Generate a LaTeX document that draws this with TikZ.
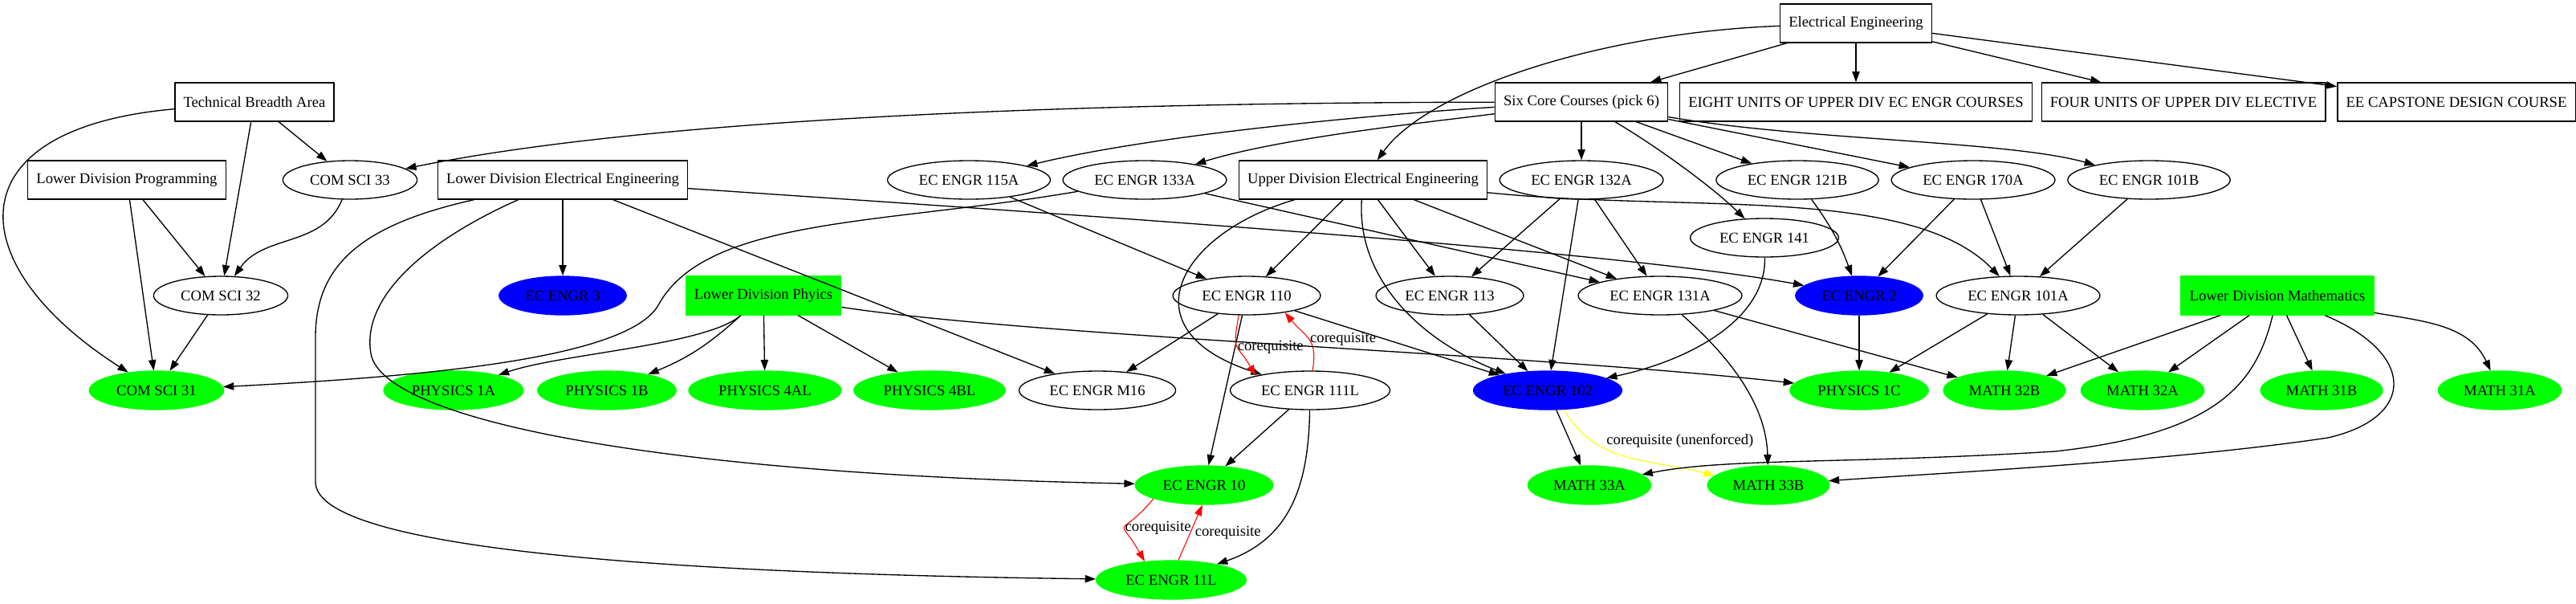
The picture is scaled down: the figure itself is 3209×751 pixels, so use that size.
\documentclass[tikz,border=0pt]{standalone}
\usepackage{fontspec}
\setmainfont{Liberation Serif}
\usepackage{xcolor}
\usepackage{tikz}
\usetikzlibrary{arrows.meta,shapes.geometric}
\definecolor{takengreen}{HTML}{00FF00}
\definecolor{reqblue}{HTML}{0000FF}
\definecolor{coreqred}{HTML}{FF0000}
\definecolor{softyellow}{HTML}{FFFF00}
\tikzset{
    every picture/.style={line join=round},
    course/.style={draw=black,ellipse,line width=1pt,inner xsep=7pt,inner ysep=0pt,
      minimum height=36pt,font=\fontsize{14}{16}\selectfont},
    groupbox/.style={draw=black,rectangle,line width=1pt,inner xsep=8pt,inner ysep=0pt,
      minimum height=36pt,font=\fontsize{14}{16}\selectfont},
    taken/.style={fill=takengreen,draw=takengreen},
    required/.style={fill=reqblue,draw=reqblue},
    prereq/.style={->,draw=black,line width=1pt},
    coreq/.style={->,draw=coreqred,line width=0.8pt},
    softcoreq/.style={->,draw=softyellow,line width=0.8pt},
    edgelabel/.style={font=\fontsize{14}{16}\selectfont,inner sep=0pt,anchor=west}
}

\begin{document}
\begin{tikzpicture}[x=0.75pt,y=-0.75pt,>={Triangle[length=10pt,width=7pt]}]
    \useasboundingbox (0,0) rectangle (3209,751);
    \node[groupbox] (ee) at (2312,29) {Electrical Engineering};
    \node[groupbox] (tba) at (317,127) {Technical Breadth Area};
    \node[groupbox] (six) at (1970,127) {Six Core Courses (pick 6)};
    \node[groupbox] (eight) at (2312,127) {EIGHT UNITS OF UPPER DIV EC ENGR COURSES};
    \node[groupbox] (four) at (2720,127) {FOUR UNITS OF UPPER DIV ELECTIVE};
    \node[groupbox] (capstone) at (3060,127) {EE CAPSTONE DESIGN COURSE};
    \node[groupbox] (ldp) at (158,224) {Lower Division Programming};
    \node[course] (cs33) at (436,224) {COM SCI 33};
    \node[groupbox] (ldee) at (701,224) {Lower Division Electrical Engineering};
    \node[course] (e115a) at (1207,224) {EC ENGR 115A};
    \node[course] (e133a) at (1426,224) {EC ENGR 133A};
    \node[groupbox] (udee) at (1698,224) {Upper Division Electrical Engineering};
    \node[course] (e132a) at (1970,224) {EC ENGR 132A};
    \node[course] (e121b) at (2239,224) {EC ENGR 121B};
    \node[course] (e170a) at (2458,224) {EC ENGR 170A};
    \node[course] (e101b) at (2677,224) {EC ENGR 101B};
    \node[course] (e141) at (2198,296) {EC ENGR 141};
    \node[course] (cs32) at (275,368) {COM SCI 32};
    \node[course,required] (e3) at (701,368) {EC ENGR 3};
    \node[groupbox,taken] (ldphys) at (951,368) {Lower Division Phyics};
    \node[course] (e110) at (1553,368) {EC ENGR 110};
    \node[course] (e113) at (1806,368) {EC ENGR 113};
    \node[course] (e131a) at (2068,368) {EC ENGR 131A};
    \node[course,required] (e2) at (2316,368) {EC ENGR 2};
    \node[course] (e101a) at (2514,368) {EC ENGR 101A};
    \node[groupbox,taken] (ldm) at (2837,368) {Lower Division Mathematics};
    \node[course,taken] (cs31) at (195,486) {COM SCI 31};
    \node[course,taken] (p1a) at (565,486) {PHYSICS 1A};
    \node[course,taken] (p1b) at (756,486) {PHYSICS 1B};
    \node[course,taken] (p4al) at (953,486) {PHYSICS 4AL};
    \node[course,taken] (p4bl) at (1158,486) {PHYSICS 4BL};
    \node[course] (m16) at (1367,486) {EC ENGR M16};
    \node[course] (e111l) at (1632,486) {EC ENGR 111L};
    \node[course,required] (e102) at (1928,486) {EC ENGR 102};
    \node[course,taken] (p1c) at (2316,486) {PHYSICS 1C};
    \node[course,taken] (m32b) at (2497,486) {MATH 32B};
    \node[course,taken] (m32a) at (2669,486) {MATH 32A};
    \node[course,taken] (m31b) at (2892,486) {MATH 31B};
    \node[course,taken] (m31a) at (3114,486) {MATH 31A};
    \node[course,taken] (e10) at (1500,604) {EC ENGR 10};
    \node[course,taken] (m33a) at (1980,604) {MATH 33A};
    \node[course,taken] (m33b) at (2203,604) {MATH 33B};
    \node[course,taken] (e11l) at (1459,722) {EC ENGR 11L};

    \draw[prereq] (ee) -- (six);
    \draw[prereq] (ee) -- (eight);
    \draw[prereq] (ee) -- (four);
    \draw[prereq] (ee) -- (capstone);
    \draw[prereq] (ee) .. controls (2000,40) and (1780,110) .. (udee);

    \draw[prereq] (tba) -- (cs33);
    \draw[prereq] (tba) -- (cs32);
    \draw[prereq] (tba) .. controls (-60,160) and (-50,330) .. (cs31);
    \draw[prereq] (ldp) -- (cs32);
    \draw[prereq] (ldp) -- (cs31);
    \draw[prereq] (cs33) to[out=-112,in=55] (cs32);
    \draw[prereq] (cs32) -- (cs31);

    \draw[prereq] (six) .. controls (1300,128) and (800,150) .. (cs33);
    \draw[prereq] (six) .. controls (1750,140) and (1450,165) .. (e115a);
    \draw[prereq] (six) .. controls (1800,150) and (1600,170) .. (e133a);
    \draw[prereq] (six) -- (e132a);
    \draw[prereq] (six) .. controls (2060,180) and (2130,230) .. (e141);
    \draw[prereq] (six) -- (e121b);
    \draw[prereq] (six) -- (e170a);
    \draw[prereq] (six) .. controls (2250,175) and (2500,175) .. (e101b);

    \draw[prereq] (ldee) -- (e3);
    \draw[prereq] (ldee) -- (m16);
    \draw[prereq] (ldee) .. controls (1300,265) and (2000,310) .. (e2);
    \draw[prereq] (ldee) .. controls (530,300) and (450,370) .. (462,440)
        .. controls (475,520) and (800,590) .. (e10);
    \draw[prereq] (ldee) .. controls (450,280) and (393,330) .. (393,420) -- (393,600)
        .. controls (393,690) and (900,715) .. (e11l);

    \draw[prereq] (e115a) -- (e110);
    \draw[prereq] (e133a) -- (e131a);
    \draw[prereq] (e133a) .. controls (1100,280) and (880,270) .. (820,380)
        .. controls (780,450) and (500,470) .. (cs31);

    \draw[prereq] (udee) -- (e110);
    \draw[prereq] (udee) -- (e113);
    \draw[prereq] (udee) -- (e131a);
    \draw[prereq] (udee) .. controls (1470,290) and (1400,410) .. (e111l);
    \draw[prereq] (udee) .. controls (1690,340) and (1760,420) .. (e102);
    \draw[prereq] (udee) .. controls (2100,265) and (2380,230) .. (e101a);

    \draw[prereq] (e132a) -- (e113);
    \draw[prereq] (e132a) -- (e131a);
    \draw[prereq] (e132a) -- (e102);
    \draw[prereq] (e141) .. controls (2200,400) and (2100,450) .. (e102);
    \draw[prereq] (e121b) to[bend left=8] (e2);
    \draw[prereq] (e170a) -- (e2);
    \draw[prereq] (e170a) -- (e101a);
    \draw[prereq] (e101b) -- (e101a);

    \draw[prereq] (e110) -- (m16);
    \draw[prereq] (e110) -- (e10);
    \draw[prereq] (e110) -- (e102);
    \draw[coreq] (e110.-112) to[out=-100,in=120,looseness=1.6]
        node[edgelabel]{corequisite} (e111l.165);
    \draw[coreq] (e111l.83) to[out=80,in=-50,looseness=1.3]
        node[edgelabel,xshift=1pt]{corequisite} (e110.-24);
    \draw[prereq] (e111l) -- (e10);
    \draw[prereq] (e111l) .. controls (1630,600) and (1610,670) .. (e11l);
    \draw[coreq] (e10.-165) to[out=-130,in=120,looseness=2.3]
        node[edgelabel]{corequisite} (e11l.145);
    \draw[coreq] (e11l.70) -- node[edgelabel,xshift=4pt]{corequisite} (e10.-95);

    \draw[prereq] (e113) -- (e102);
    \draw[prereq] (e131a) -- (m32b);
    \draw[prereq] (e131a) .. controls (2150,440) and (2200,500) .. (m33b);
    \draw[prereq] (e2) -- (p1c);
    \draw[prereq] (e101a) -- (p1c);
    \draw[prereq] (e101a) -- (m32b);
    \draw[prereq] (e101a) -- (m32a);
    \draw[prereq] (e102) -- (m33a);
    \draw[softcoreq] (e102.-50) to[out=-60,in=165]
        node[edgelabel,pos=0.25,xshift=13pt]{corequisite (unenforced)} (m33b.170);

    \draw[prereq] (ldphys) .. controls (880,430) and (700,440) .. (p1a);
    \draw[prereq] (ldphys) to[bend left=10] (p1b);
    \draw[prereq] (ldphys) -- (p4al);
    \draw[prereq] (ldphys) -- (p4bl);
    \draw[prereq] (ldphys) .. controls (1300,420) and (1900,440) .. (p1c);

    \draw[prereq] (ldm) -- (m32b);
    \draw[prereq] (ldm) -- (m32a);
    \draw[prereq] (ldm) -- (m31b);
    \draw[prereq] (ldm) to[out=-10,in=115] (m31a);
    \draw[prereq] (ldm) .. controls (2810,480) and (2760,540) .. (2560,562)
        .. controls (2300,578) and (2150,570) .. (m33a);
    \draw[prereq] (ldm) .. controls (3010,440) and (3010,520) .. (2900,545)
        .. controls (2700,575) and (2400,590) .. (m33b);
\end{tikzpicture}
\end{document}
